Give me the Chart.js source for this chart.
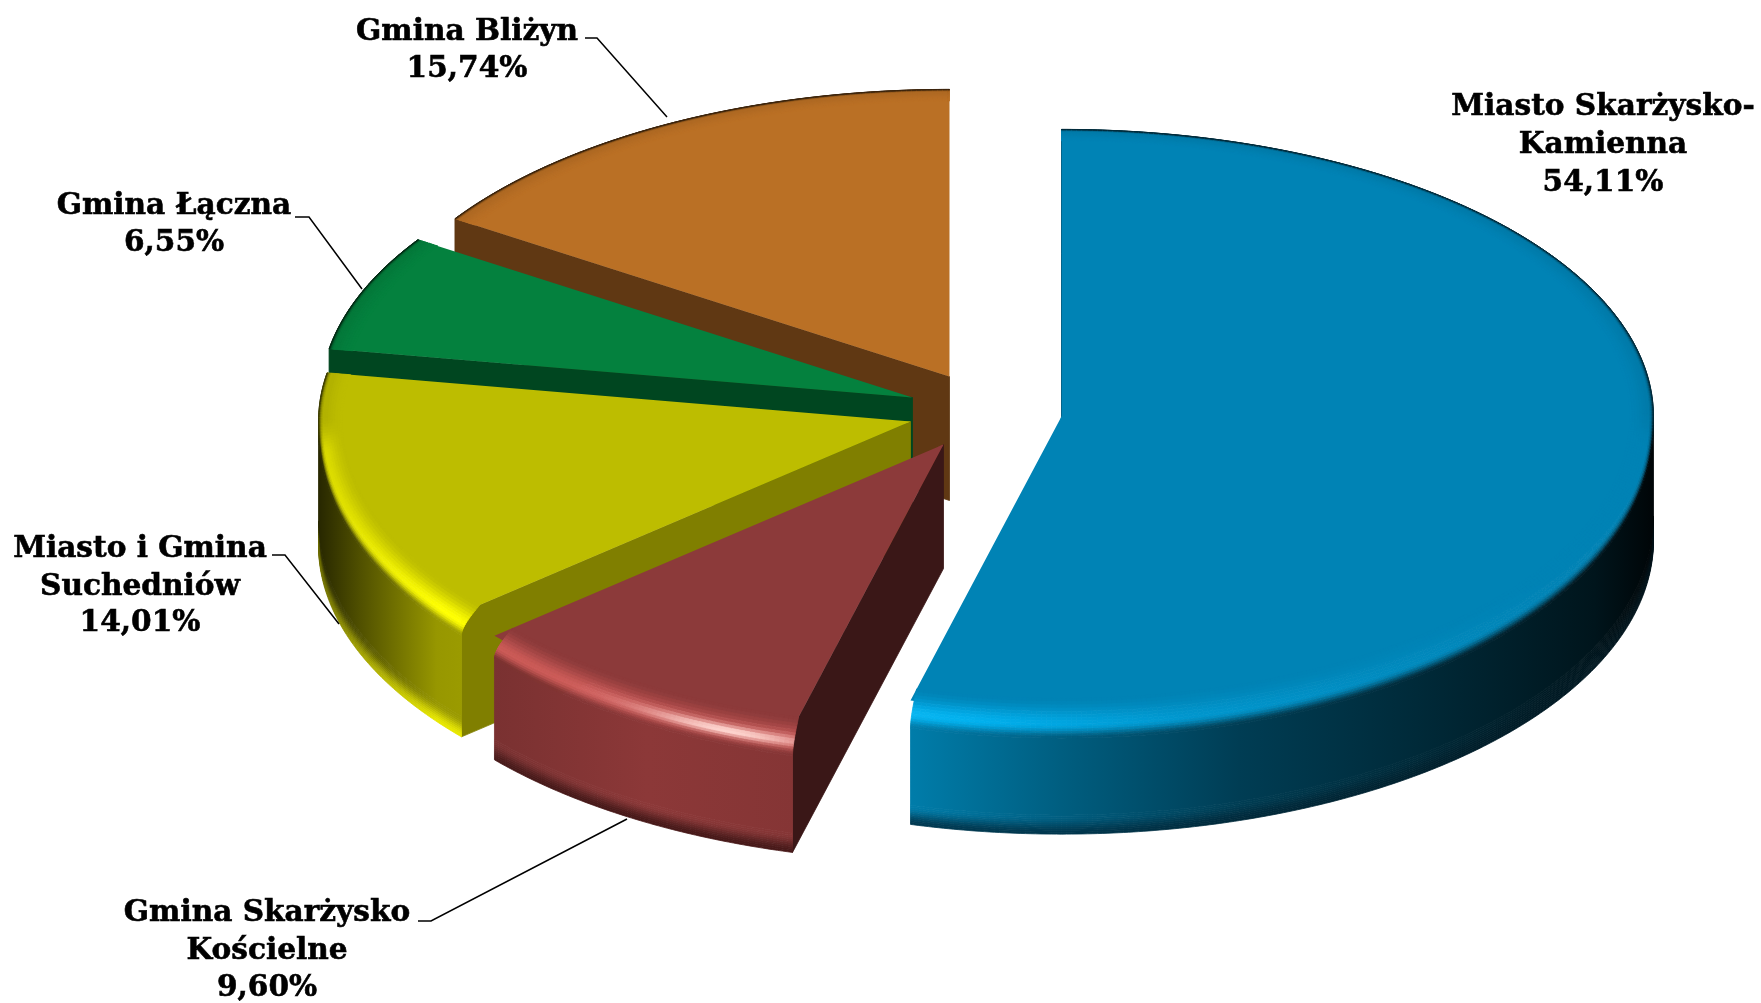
<!DOCTYPE html>
<html lang="pl">
<head>
<meta charset="UTF-8">
<title>Udział gmin</title>
<script src="https://cdn.jsdelivr.net/npm/chart.js"></script>
<style>
    html, body { margin: 0; padding: 0; background: #fff; }
    #wrap { width: 1761px; height: 1003px; }
</style>
</head>
<body>
<div id="wrap"><canvas id="pie" width="1761" height="1003"></canvas></div>
<script>
// dane
const categories = [
    ['Miasto Skarżysko-', 'Kamienna'],
    ['Gmina Skarżysko', 'Kościelne'],
    ['Miasto i Gmina', 'Suchedniów'],
    ['Gmina Łączna'],
    ['Gmina Bliżyn']
];
const shares = [54.11, 9.60, 14.01, 6.55, 15.74];

// kolory
const topColors = ['#0083b5', '#8c3a3a', '#bdbd00', '#04813e', '#ba7025'];
const cutColors = ['#00405a', '#3a1717', '#807f00', '#004620', '#603813'];
const wallColors = [[0, 130, 178], [140, 56, 56], [178, 178, 0], [4, 100, 50], [140, 84, 28]];
const specColors = [[0, 176, 238], [204, 90, 88], [255, 255, 0], [4, 129, 62], [186, 112, 37]];
const glintColors = [[20, 190, 245], [255, 216, 210], [255, 255, 0], [4, 129, 62], [186, 112, 37]];
const footColors = [[0, 56, 80], [70, 24, 24], [232, 232, 0], [0, 60, 30], [80, 48, 16]];

// uklad: przesuniecie kazdego wycinka wzgledem srodka wykresu
const shiftX = [181, 63, 30, 32, 69];
const shiftY = [-85, -57, -80, -104, -125];
const squashBack = 0.485, squashFront = 0.496;
const depth = 124, bevelIn = 24, bevelDown = 28;
const drawOrder = [4, 3, 2, 1, 0];

const labelX = [1603, 267, 140, 174, 467];
const labelY = [[107, 145, 183], [913, 951, 988], [549, 587, 623], [206, 243], [32, 69]];
const leaders = [
    null,
    [[418, 921], [431, 921], [627, 819]],
    [[272, 555], [285, 555], [339, 624]],
    [[295, 217], [309, 217], [362, 289]],
    [[585, 38], [597, 38], [667, 117]]
];

// jasnosc sciany i polysku w zaleznosci od polozenia w poziomie (-1 lewo, 1 prawo)
const wallLight = [[-1, .22], [-.93, .45], [-.8, .85], [-.5, 1], [-.25, .95], [0, .72], [.3, .47], [.6, .32], [.9, .16], [1, .04]];
const specLight = [[-1, .45], [-.8, 1], [-.15, 1], [.2, .45], [.55, .18], [.85, 0], [1, 0]];

function lookup(stops, u) {
    for (let i = 1; i < stops.length; i++) {
        if (u <= stops[i][0]) {
            const f = (u - stops[i - 1][0]) / (stops[i][0] - stops[i - 1][0]);
            return stops[i - 1][1] + (stops[i][1] - stops[i - 1][1]) * Math.max(f, 0);
        }
    }
    return stops[stops.length - 1][1];
}
function mix(a, b, t) { return [0, 1, 2].map(k => a[k] + (b[k] - a[k]) * t); }
function smooth(t) { t = Math.min(1, Math.max(0, t)); return t * t * (3 - 2 * t); }
function css(c) { return 'rgb(' + c.map(Math.round).join(',') + ')'; }
function hexRgb(h) { return [1, 3, 5].map(i => parseInt(h.substr(i, 2), 16)); }

function poly(ctx, pts, color) {
    ctx.fillStyle = ctx.strokeStyle = color;
    ctx.beginPath();
    pts.forEach((p, i) => i ? ctx.lineTo(p[0], p[1]) : ctx.moveTo(p[0], p[1]));
    ctx.closePath();
    ctx.fill();
    ctx.stroke();
}

const pie3d = {
    id: 'pie3d',
    beforeDatasetsDraw(chart) {
        const ctx = chart.ctx;
        const arcs = chart.getDatasetMeta(0).data;
        ctx.save();
        ctx.lineWidth = 0.8;
        drawOrder.forEach(i => {
            const arc = arcs[i];
            const R = arc.outerRadius, a0 = arc.startAngle, a1 = arc.endAngle;
            const cx = arc.x + shiftX[i], cy = arc.y + shiftY[i];
            const top = hexRgb(topColors[i]);

            const rim = (a, t, v) => {
                const sn = Math.sin(a);
                const drop = bevelDown * Math.sqrt(Math.max(0, sn));
                const r = R - bevelIn * (1 - Math.sin(t * Math.PI / 2));
                const z = t * drop + v * Math.max(0, depth - drop);
                return [cx + r * Math.cos(a), cy + r * sn * (sn > 0 ? squashFront : squashBack) + z];
            };
            const wallAt = (u, v) => {
                const light = lookup(wallLight, u);
                const c = wallColors[i].map(x => x * light);
                return mix(c, footColors[i].map(x => x * Math.min(1, light + .25)), smooth((v - .82) / .18));
            };
            const bevelAt = (a, t) => {
                const u = Math.cos(a), sn = Math.sin(a);
                const front = smooth((sn + .02) / .12);
                let peak = mix(top, specColors[i], lookup(specLight, u));
                peak = mix(mix(top, [0, 0, 0], .06), peak, front);
                const end = mix(mix(top, [0, 0, 0], .7), wallAt(u, 0), front);
                let c = t < .6 ? mix(top, peak, smooth(t / .6)) : mix(peak, end, smooth((t - .6) / .4));
                const glint = front * Math.exp(-Math.pow((u + .37) / .14, 2)) * Math.exp(-Math.pow((t - .58) / .14, 2));
                return mix(c, glintColors[i], glint);
            };

            // sciana ciecia
            const ex = cx + R * Math.cos(a0), sn0 = Math.sin(a0);
            const ey = cy + R * sn0 * (sn0 > 0 ? squashFront : squashBack);
            poly(ctx, [[cx, cy], [ex, ey], [ex, ey + depth], [cx, cy + depth]], cutColors[i]);

            // sciana zewnetrzna, pasami z gradientem poziomym
            const step = Math.PI / 360;
            const from = Math.max(a0, 0), to = Math.min(a1, Math.PI);
            if (to > from) {
                const vRows = [0, .8];
                for (let v = .82; v < 1; v += .02) vRows.push(v);
                vRows.push(1);
                for (let r = 0; r < vRows.length - 1; r++) {
                    const grad = ctx.createLinearGradient(cx - R, 0, cx + R, 0);
                    wallLight.forEach(s => grad.addColorStop((s[0] + 1) / 2, css(wallAt(s[0], (vRows[r] + vRows[r + 1]) / 2))));
                    const upper = [], lower = [];
                    for (let a = from; ; a += step) {
                        const aa = Math.min(a, to);
                        upper.push(rim(aa, 1, vRows[r]));
                        lower.unshift(rim(aa, 1, vRows[r + 1]));
                        if (a >= to) break;
                    }
                    poly(ctx, upper.concat(lower), grad);
                }
            }

            // wierzch rysuje sam Chart.js, osobno tyl i przod (tyl z zakladka, zeby nie bylo szwu)
            [[squashBack, -1], [squashFront, 1]].forEach(([k, side]) => {
                ctx.save();
                ctx.beginPath();
                ctx.rect(0, side < 0 ? 0 : cy, chart.width, side < 0 ? cy + 2 : chart.height - cy);
                ctx.clip();
                ctx.translate(cx, cy);
                ctx.scale(1, k);
                ctx.translate(-arc.x, -arc.y);
                arc.draw(ctx);
                ctx.restore();
            });

            // zaokraglona krawedz
            const rows = 14;
            for (let a = a0; a < a1; a += step) {
                const b = Math.min(a + step, a1), m = (a + b) / 2;
                for (let r = 0; r < rows; r++) {
                    const t0 = r / rows, t1 = (r + 1) / rows;
                    poly(ctx, [rim(a, t0, 0), rim(b, t0, 0), rim(b, t1, 0), rim(a, t1, 0)],
                        css(bevelAt(m, (t0 + t1) / 2)));
                }
            }
        });
        ctx.restore();
        return false;
    },
    afterDraw(chart) {
        const ctx = chart.ctx;
        ctx.save();
        ctx.strokeStyle = '#000';
        ctx.lineWidth = 1.5;
        leaders.forEach(line => {
            if (!line) return;
            ctx.beginPath();
            line.forEach((p, i) => i ? ctx.lineTo(p[0], p[1]) : ctx.moveTo(p[0], p[1]));
            ctx.stroke();
        });
        ctx.fillStyle = '#000';
        ctx.lineWidth = 0.6;
        ctx.font = 'bold 29.6px "DejaVu Serif"';
        ctx.textAlign = 'center';
        ctx.textBaseline = 'middle';
        categories.forEach((lines, i) => {
            const text = lines.concat(shares[i].toFixed(2).replace('.', ',') + '%');
            text.forEach((line, k) => {
                ctx.fillText(line, labelX[i], labelY[i][k]);
                ctx.strokeText(line, labelX[i], labelY[i][k]);
            });
        });
        ctx.restore();
    }
};

new Chart(document.getElementById('pie'), {
    type: 'pie',
    data: {
        labels: categories,
        datasets: [{
            data: shares,
            backgroundColor: topColors,
            borderWidth: 0,
            radius: 592
        }]
    },
    options: {
        responsive: false,
        animation: false,
        events: [],
        rotation: 0,
        layout: { padding: 0 },
        plugins: { legend: { display: false }, tooltip: { enabled: false } }
    },
    plugins: [pie3d]
});
</script>
</body>
</html>
